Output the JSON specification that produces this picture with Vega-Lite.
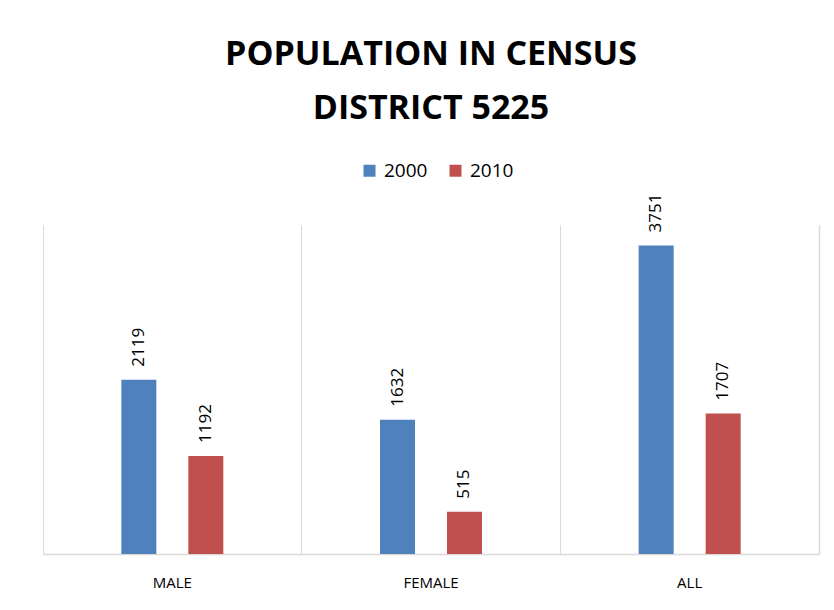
{
  "$schema": "https://vega.github.io/schema/vega-lite/v6.json",
  "autosize": {"type": "none"},
  "width": 776,
  "height": 329,
  "padding": {"left": 43, "top": 225, "right": 15, "bottom": 56},
  "background": "white",
  "config": {"view": {"stroke": null}, "font": "Open Sans"},
  "title": {
    "text": ["POPULATION IN CENSUS", "DISTRICT 5225"],
    "font": "Open Sans",
    "fontSize": 34,
    "fontWeight": "bold",
    "color": "#000000",
    "anchor": "middle",
    "frame": "group",
    "lineHeight": 54,
    "offset": 35
  },
  "data": {
    "values": [
      {"category": "MALE", "year": "2000", "population": 2119},
      {"category": "MALE", "year": "2010", "population": 1192},
      {"category": "FEMALE", "year": "2000", "population": 1632},
      {"category": "FEMALE", "year": "2010", "population": 515},
      {"category": "ALL", "year": "2000", "population": 3751},
      {"category": "ALL", "year": "2010", "population": 1707}
    ]
  },
  "encoding": {
    "x": {
      "field": "category",
      "type": "nominal",
      "sort": ["MALE", "FEMALE", "ALL"],
      "scale": {"paddingInner": 0, "paddingOuter": 0},
      "axis": {
        "title": null,
        "labelAngle": 0,
        "labelFont": "Open Sans",
        "labelFontSize": 15,
        "labelColor": "#000000",
        "labelPadding": 21,
        "ticks": false,
        "grid": true,
        "gridColor": "#D9D9D9",
        "gridWidth": 1,
        "bandPosition": 0,
        "domainColor": "#D9D9D9",
        "domainWidth": 1.5
      }
    },
    "xOffset": {
      "field": "year",
      "type": "nominal",
      "scale": {"paddingInner": 0.139, "paddingOuter": 1}
    },
    "y": {
      "field": "population",
      "type": "quantitative",
      "scale": {"domain": [0, 4000]},
      "axis": {
        "orient": "right",
        "title": null,
        "labels": false,
        "ticks": false,
        "grid": false,
        "domain": true,
        "domainColor": "#D9D9D9",
        "domainWidth": 1.5
      }
    }
  },
  "layer": [
    {
      "mark": {"type": "bar", "width": 35},
      "encoding": {
        "color": {
          "field": "year",
          "type": "nominal",
          "scale": {"domain": ["2000", "2010"], "range": ["#4F81BD", "#C0504D"]},
          "legend": {
            "title": null,
            "orient": "none",
            "direction": "horizontal",
            "legendX": 317,
            "legendY": -64,
            "symbolType": "square",
            "symbolSize": 144,
            "symbolStrokeWidth": 0,
            "labelFont": "Open Sans",
            "labelFontSize": 19,
            "labelColor": "#000000",
            "labelOffset": 5,
            "columnPadding": 18
          }
        }
      }
    },
    {
      "mark": {
        "type": "text",
        "angle": 270,
        "align": "left",
        "baseline": "middle",
        "dx": 13,
        "font": "Open Sans",
        "fontSize": 17,
        "color": "#000000"
      },
      "encoding": {
        "text": {"field": "population", "type": "quantitative"}
      }
    }
  ]
}
